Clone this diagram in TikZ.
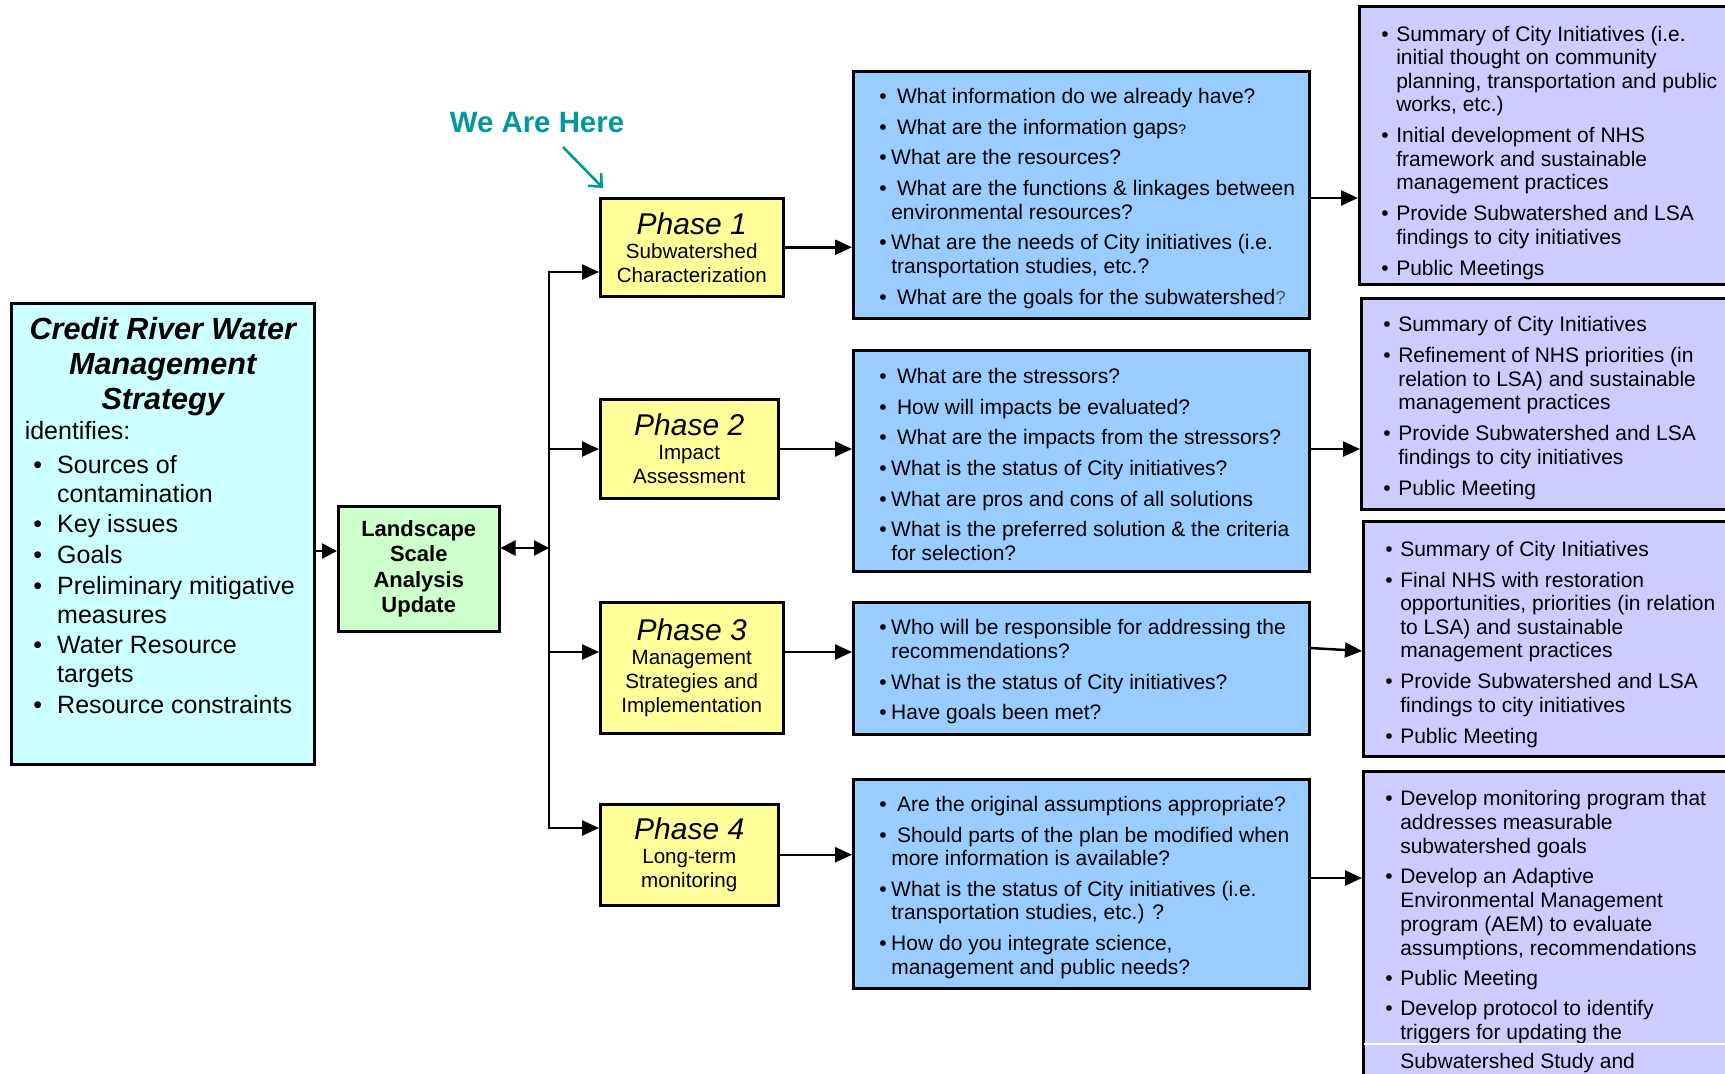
\documentclass[tikz,border=0pt]{standalone}
\usepackage{fontspec}
\setmainfont{Liberation Sans}
\usetikzlibrary{arrows.meta,calc}
\hyphenpenalty=10000
\exhyphenpenalty=10000
\definecolor{credcol}{RGB}{204,255,255}
\definecolor{lsacol}{RGB}{204,255,204}
\definecolor{phcol}{RGB}{255,255,153}
\definecolor{qcol}{RGB}{153,204,255}
\definecolor{pcol}{RGB}{204,204,255}
\definecolor{tealc}{RGB}{0,153,153}
\newlength\bpre
\newlength\bbw
\newcommand\bitem{\par\hangindent=\dimexpr\bpre+\bbw\relax\hangafter=1\noindent\hspace*{\bpre}\makebox[\bbw][l]{\textbullet}\ignorespaces}
\newcommand\clist[3]{\hbox to #1{\hspace*{#2}\parbox[c]{\dimexpr#1-#2+30pt\relax}{#3}\hss}}
\newcommand\tlist[4]{\hbox to #1{\hspace*{#2}\parbox[c][#3][t]{\dimexpr#1-#2+30pt\relax}{#4}\hss}}
\newcommand\qsetup{\fontsize{10.5}{11.75}\selectfont\raggedright\setlength\parskip{3.6pt}\setlength\bpre{5pt}\setlength\bbw{6pt}\vspace*{0pt}}
\newcommand\psetup{\fontsize{10.5}{11.75}\selectfont\raggedright\setlength\parskip{3.75pt}\setlength\bpre{3pt}\setlength\bbw{7.5pt}}
\tikzset{
  box/.style={draw=black, line width=1.25pt, inner sep=0pt, anchor=north west},
  conarrow/.style={line width=1.25pt, -{Triangle[length=8.5pt,width=7.5pt]}},
  shortarrow/.style={line width=1.25pt, -{Triangle[length=7.5pt,width=7.5pt]}},
  dblarrow/.style={line width=1.25pt, {Triangle[length=7.5pt,width=7.5pt]}-{Triangle[length=7.5pt,width=7.5pt]}},
  herearrow/.style={draw=tealc, line width=1.3pt, -{Straight Barb[length=5pt,width=9pt]}},
  phasebox/.style={box, fill=phcol, align=center, font=\fontsize{10.3}{12}\selectfont},
}
\newcommand\phtit[1]{{\fontsize{15}{16}\selectfont\itshape #1}}
\begin{document}
\begin{tikzpicture}[x=0.5pt,y=-0.5pt]
\useasboundingbox (0,0) rectangle (1725,1073);
\clip (0,0) rectangle (1725,1073);

% left strategy box
\node[box, fill=credcol, minimum width=151.5pt, minimum height=230.5pt] (credit) at (10,302)
 {\hbox to 151.5pt{\hspace*{6.75pt}\parbox[c][230.5pt][t]{138pt}{%
   \setlength\parskip{0pt}\vspace*{0.5pt}\hbox{}%
   {\centering\fontsize{15.3}{17.5}\selectfont\bfseries\itshape Credit River Water\\Management\\Strategy\par}%
   \fontsize{12.5}{14.5}\selectfont\raggedright\setlength\bpre{4.25pt}\setlength\bbw{12pt}%
   \vspace{0.5pt}\noindent identifies:\par
   \vspace{1.7pt}\setlength\parskip{0.8pt}%
   \bitem Sources of\newline contamination
   \bitem Key issues
   \bitem Goals
   \bitem Preliminary mitigative\newline measures
   \bitem Water Resource\newline targets
   \bitem Resource constraints\par}\hss}};

% landscape scale analysis
\node[box, fill=lsacol, minimum width=80.5pt, minimum height=62.5pt, align=center,
      font=\fontsize{11}{12.75}\selectfont\bfseries] (lsa) at (337,505)
 {Landscape\\Scale\\Analysis\\Update};

% phases
\node[phasebox, minimum width=91.5pt, minimum height=49pt] (ph1) at (599,197)
 {\phtit{Phase 1}\\Subwatershed\\Characterization};
\node[phasebox, minimum width=89pt, minimum height=49.5pt] (ph2) at (599,398)
 {\phtit{Phase 2}\\Impact\\Assessment};
\node[phasebox, minimum width=91.5pt, minimum height=65.5pt] (ph3) at (599,601)
 {\phtit{Phase 3}\\Management\\Strategies and\\Implementation};
\node[phasebox, minimum width=89pt, minimum height=50.5pt] (ph4) at (599,803)
 {\phtit{Phase 4}\\Long-term\\monitoring};

% question boxes
\node[box, fill=qcol, minimum width=228pt, minimum height=123.5pt] (q1) at (852,70)
 {\clist{228pt}{8pt}{\qsetup
   \bitem\ What information do we already have?
   \bitem\ What are the information gaps{\fontsize{7}{8}\selectfont ?}
   \bitem What are the resources?
   \bitem\ What are the functions \& linkages between\newline environmental resources?
   \bitem What are the needs of City initiatives (i.e.\newline transportation studies, etc.?
   \bitem\ What are the goals for the subwatershed{\fontsize{9.5}{10}\selectfont\color{black!65}?}\par}};
\node[box, fill=qcol, minimum width=228pt, minimum height=110.5pt] (q2) at (852,349)
 {\clist{228pt}{8pt}{\qsetup
   \bitem\ What are the stressors?
   \bitem\ How will impacts be evaluated?
   \bitem\ What are the impacts from the stressors?
   \bitem What is the status of City initiatives?
   \bitem What are pros and cons of all solutions
   \bitem What is the preferred solution \& the criteria\newline for selection?\par}};
\node[box, fill=qcol, minimum width=228pt, minimum height=66pt] (q3) at (852,601)
 {\clist{228pt}{8pt}{\qsetup
   \bitem Who will be responsible for addressing the\newline recommendations?
   \bitem What is the status of City initiatives?
   \bitem Have goals been met?\par}};
\node[box, fill=qcol, minimum width=228pt, minimum height=104.5pt] (q4) at (852,778)
 {\clist{228pt}{8pt}{\qsetup
   \bitem\ Are the original assumptions appropriate?
   \bitem\ Should parts of the plan be modified when\newline more information is available?
   \bitem What is the status of City initiatives (i.e.\newline transportation studies, etc.) ?
   \bitem How do you integrate science,\newline management and public needs?\par}};

% outcome boxes
\node[box, fill=pcol, minimum width=201pt, minimum height=139pt] (pp1) at (1358,5)
 {\tlist{201pt}{8pt}{139pt}{\psetup\vspace*{2pt}\hbox{}%
   \bitem Summary of City Initiatives (i.e.\newline initial thought on community\newline planning, transportation and public\newline works, etc.)
   \bitem Initial development of NHS\newline framework and sustainable\newline management practices
   \bitem Provide Subwatershed and LSA\newline findings to city initiatives
   \bitem Public Meetings\par}};
\node[box, fill=pcol, minimum width=200pt, minimum height=105.5pt] (pp2) at (1360,297)
 {\tlist{200pt}{8pt}{105.5pt}{\psetup\vspace*{1.2pt}\hbox{}%
   \bitem Summary of City Initiatives
   \bitem Refinement of NHS priorities (in\newline relation to LSA) and sustainable\newline management practices
   \bitem Provide Subwatershed and LSA\newline findings to city initiatives
   \bitem Public Meeting\par}};
\node[box, fill=pcol, minimum width=199pt, minimum height=117.5pt] (pp3) at (1362,520)
 {\tlist{199pt}{8pt}{117.5pt}{\psetup\vspace*{2pt}\hbox{}%
   \bitem Summary of City Initiatives
   \bitem Final NHS with restoration\newline opportunities, priorities (in relation\newline to LSA) and sustainable\newline management practices
   \bitem Provide Subwatershed and LSA\newline findings to city initiatives
   \bitem Public Meeting\par}};
\node[box, fill=pcol, minimum width=199pt, minimum height=165pt] (pp4) at (1362,770)
 {\tlist{199pt}{8pt}{165pt}{\psetup\fontsize{10.5}{12}\selectfont\setlength\parskip{3pt}\vspace*{2pt}\hbox{}%
   \bitem Develop monitoring program that\newline addresses measurable\newline subwatershed goals
   \bitem Develop an Adaptive\newline Environmental Management\newline program (AEM) to evaluate\newline assumptions, recommendations
   \bitem Public Meeting
   \bitem Develop protocol to identify\newline triggers for updating the\vadjust{\vskip2.5pt}\newline Subwatershed Study and\par}};
\draw[white, line width=0.8pt] ($(pp4.north west)+(1.5,274)$) -- ++(420,0);

% we are here
\node[font=\fontsize{14.7}{16}\selectfont\bfseries, text=tealc] (wah) at (537,123) {We Are Here};
\coordinate (wa1) at (563,147);
\draw[herearrow] (wa1) -- ([xshift=2pt,yshift=4.5pt]ph1.north west);

% connectors
\coordinate (c0) at (0,551);
\coordinate (bm) at (549,548);
\coordinate (b1) at (549,272);
\coordinate (b2) at (549,449);
\coordinate (b3) at (549,652);
\coordinate (b4) at (549,828);
\draw[shortarrow] (credit.east |- c0) -- (lsa.west |- c0);
\draw[dblarrow] (lsa.east |- bm) -- (bm);
\draw[conarrow] (bm) -- (b1) -- (b1 -| ph1.west);
\draw[conarrow] (bm) -- (b4) -- (b4 -| ph4.west);
\draw[conarrow] (b2) -- (b2 -| ph2.west);
\draw[conarrow] (b3) -- (b3 -| ph3.west);

\draw[conarrow] (ph1.east) -- (ph1.east -| q1.west);
\draw[conarrow] (ph2.east |- b2) -- (q2.west |- b2);
\draw[conarrow] (ph3.east |- b3) -- (q3.west |- b3);
\draw[conarrow] (ph4.east) -- (ph4.east -| q4.west);

\coordinate (r1) at (0,198);
\coordinate (r2) at (0,449);
\coordinate (r3s) at (0,648);
\coordinate (r3e) at (0,651);
\coordinate (r4) at (0,878);
\draw[conarrow] (q1.east |- r1) -- (pp1.west |- r1);
\draw[conarrow] (q2.east |- r2) -- (pp2.west |- r2);
\draw[conarrow] (q3.east |- r3s) -- (pp3.west |- r3e);
\draw[conarrow] (q4.east |- r4) -- (pp4.west |- r4);
\end{tikzpicture}
\end{document}
